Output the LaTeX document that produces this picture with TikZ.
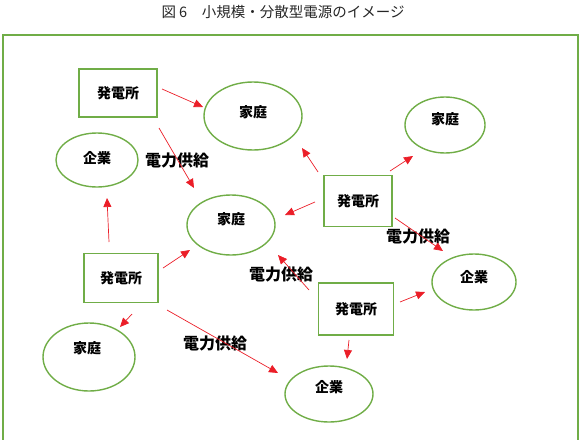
\documentclass[tikz,border=0pt]{standalone}
\usepackage{fontspec}
\newfontfamily\jp{Noto Sans CJK JP}
\usetikzlibrary{shapes.geometric,arrows.meta}
\definecolor{frgreen}{RGB}{112,173,71}
\definecolor{arred}{RGB}{235,30,40}
\tikzset{
  plant/.style={draw=frgreen,line width=1.4pt,rectangle,minimum width=#1,minimum height=50pt,inner sep=0pt,font=\jp\bfseries\fontsize{14}{14}\selectfont},
  bubble/.style={draw=frgreen,line width=1.4pt,ellipse,inner sep=0pt},
  bubtext/.style={font=\jp\bfseries\fontsize{14}{14}\selectfont,inner sep=0pt},
  supply/.style={font=\jp\bfseries\fontsize{16}{16}\selectfont,inner sep=0pt},
  arr/.style={draw=arred,line width=0.7pt,-{Triangle[length=9pt,width=8pt,fill=arred]}},
}
\begin{document}
\begin{tikzpicture}[x=1pt,y=-1pt]
\useasboundingbox (0,0) rectangle (585,439);
\clip (0,0) rectangle (585,439);
\node[font=\jp\fontsize{14.5}{14.5}\selectfont,text=black!85,inner sep=0pt] (title) at (283,12) {図 6　小規模・分散型電源のイメージ};
\draw[frgreen,line width=1.5pt] (3,35) rectangle (578,470);
% power plants
\node[plant=78pt,minimum height=48pt] (b1) at (118,93) {発電所};
\node[plant=68pt,minimum height=51pt] (b2) at (358,201) {発電所};
\node[plant=75pt,minimum height=52pt] (b3) at (356,309) {発電所};
\node[plant=74pt,minimum height=49pt] (b4) at (121,278) {発電所};
% homes and companies
\node[bubble,minimum width=98pt,minimum height=68pt,label={[bubtext,name=th1,yshift=4pt]center:家庭}] (h1) at (253,116) {};
\node[bubble,minimum width=82pt,minimum height=54pt,label={[bubtext,name=tc1,yshift=2pt]center:企業}] (c1) at (97,160) {};
\node[bubble,minimum width=88pt,minimum height=60pt,label={[bubtext,name=th2,yshift=6pt]center:家庭}] (h2) at (231,225) {};
\node[bubble,minimum width=80pt,minimum height=56pt,label={[bubtext,name=th3,yshift=6pt]center:家庭}] (h3) at (445,125) {};
\node[bubble,minimum width=84pt,minimum height=56pt,label={[bubtext,name=tc2,yshift=5pt]center:企業}] (c2) at (474,282) {};
\node[bubble,minimum width=88pt,minimum height=56pt,label={[bubtext,name=tc3,yshift=7pt]center:企業}] (c3) at (329,394) {};
\node[bubble,minimum width=92pt,minimum height=68pt,label={[bubtext,name=th4,yshift=9pt,xshift=-2pt]center:家庭}] (h4) at (89,357) {};
% supply labels
\node[supply] (s1) at (177,160) {電力供給};
\node[supply] (s2) at (418,236) {電力供給};
\node[supply] (s3) at (281,274) {電力供給};
\node[supply] (s4) at (215,343) {電力供給};
% arrows
\draw[arr] ([shift={(44,-4)}]b1.center) -- ([shift={(-50,-9)}]h1.center);
\draw[arr] ([shift={(41,35)}]b1.center) -- ([shift={(-37,-37)}]h2.center);
\draw[arr] ([shift={(-12,-36)}]b4.center) -- ([shift={(10,38)}]c1.center);
\draw[arr] ([shift={(42,-10)}]b4.center) -- ([shift={(-41,25)}]h2.center);
\draw[arr] ([shift={(11,36)}]b4.center) -- ([shift={(31,-30)}]h4.center);
\draw[arr] ([shift={(46,32)}]b4.center) -- ([shift={(-51,-21)}]c3.center);
\draw[arr] ([shift={(-40,-29)}]b2.center) -- ([shift={(49,32)}]h1.center);
\draw[arr] ([shift={(32,-30)}]b2.center) -- ([shift={(-32,31)}]h3.center);
\draw[arr] ([shift={(-43,1)}]b2.center) -- ([shift={(54,-10)}]h2.center);
\draw[arr] ([shift={(37,17)}]b2.center) -- ([shift={(-31,-31)}]c2.center);
\draw[arr] ([shift={(-47,-19)}]b3.center) -- ([shift={(47,30)}]h2.center);
\draw[arr] ([shift={(44,-7)}]b3.center) -- ([shift={(-49,10)}]c2.center);
\draw[arr] ([shift={(-7,31)}]b3.center) -- ([shift={(18,-35)}]c3.center);
\end{tikzpicture}
\end{document}
